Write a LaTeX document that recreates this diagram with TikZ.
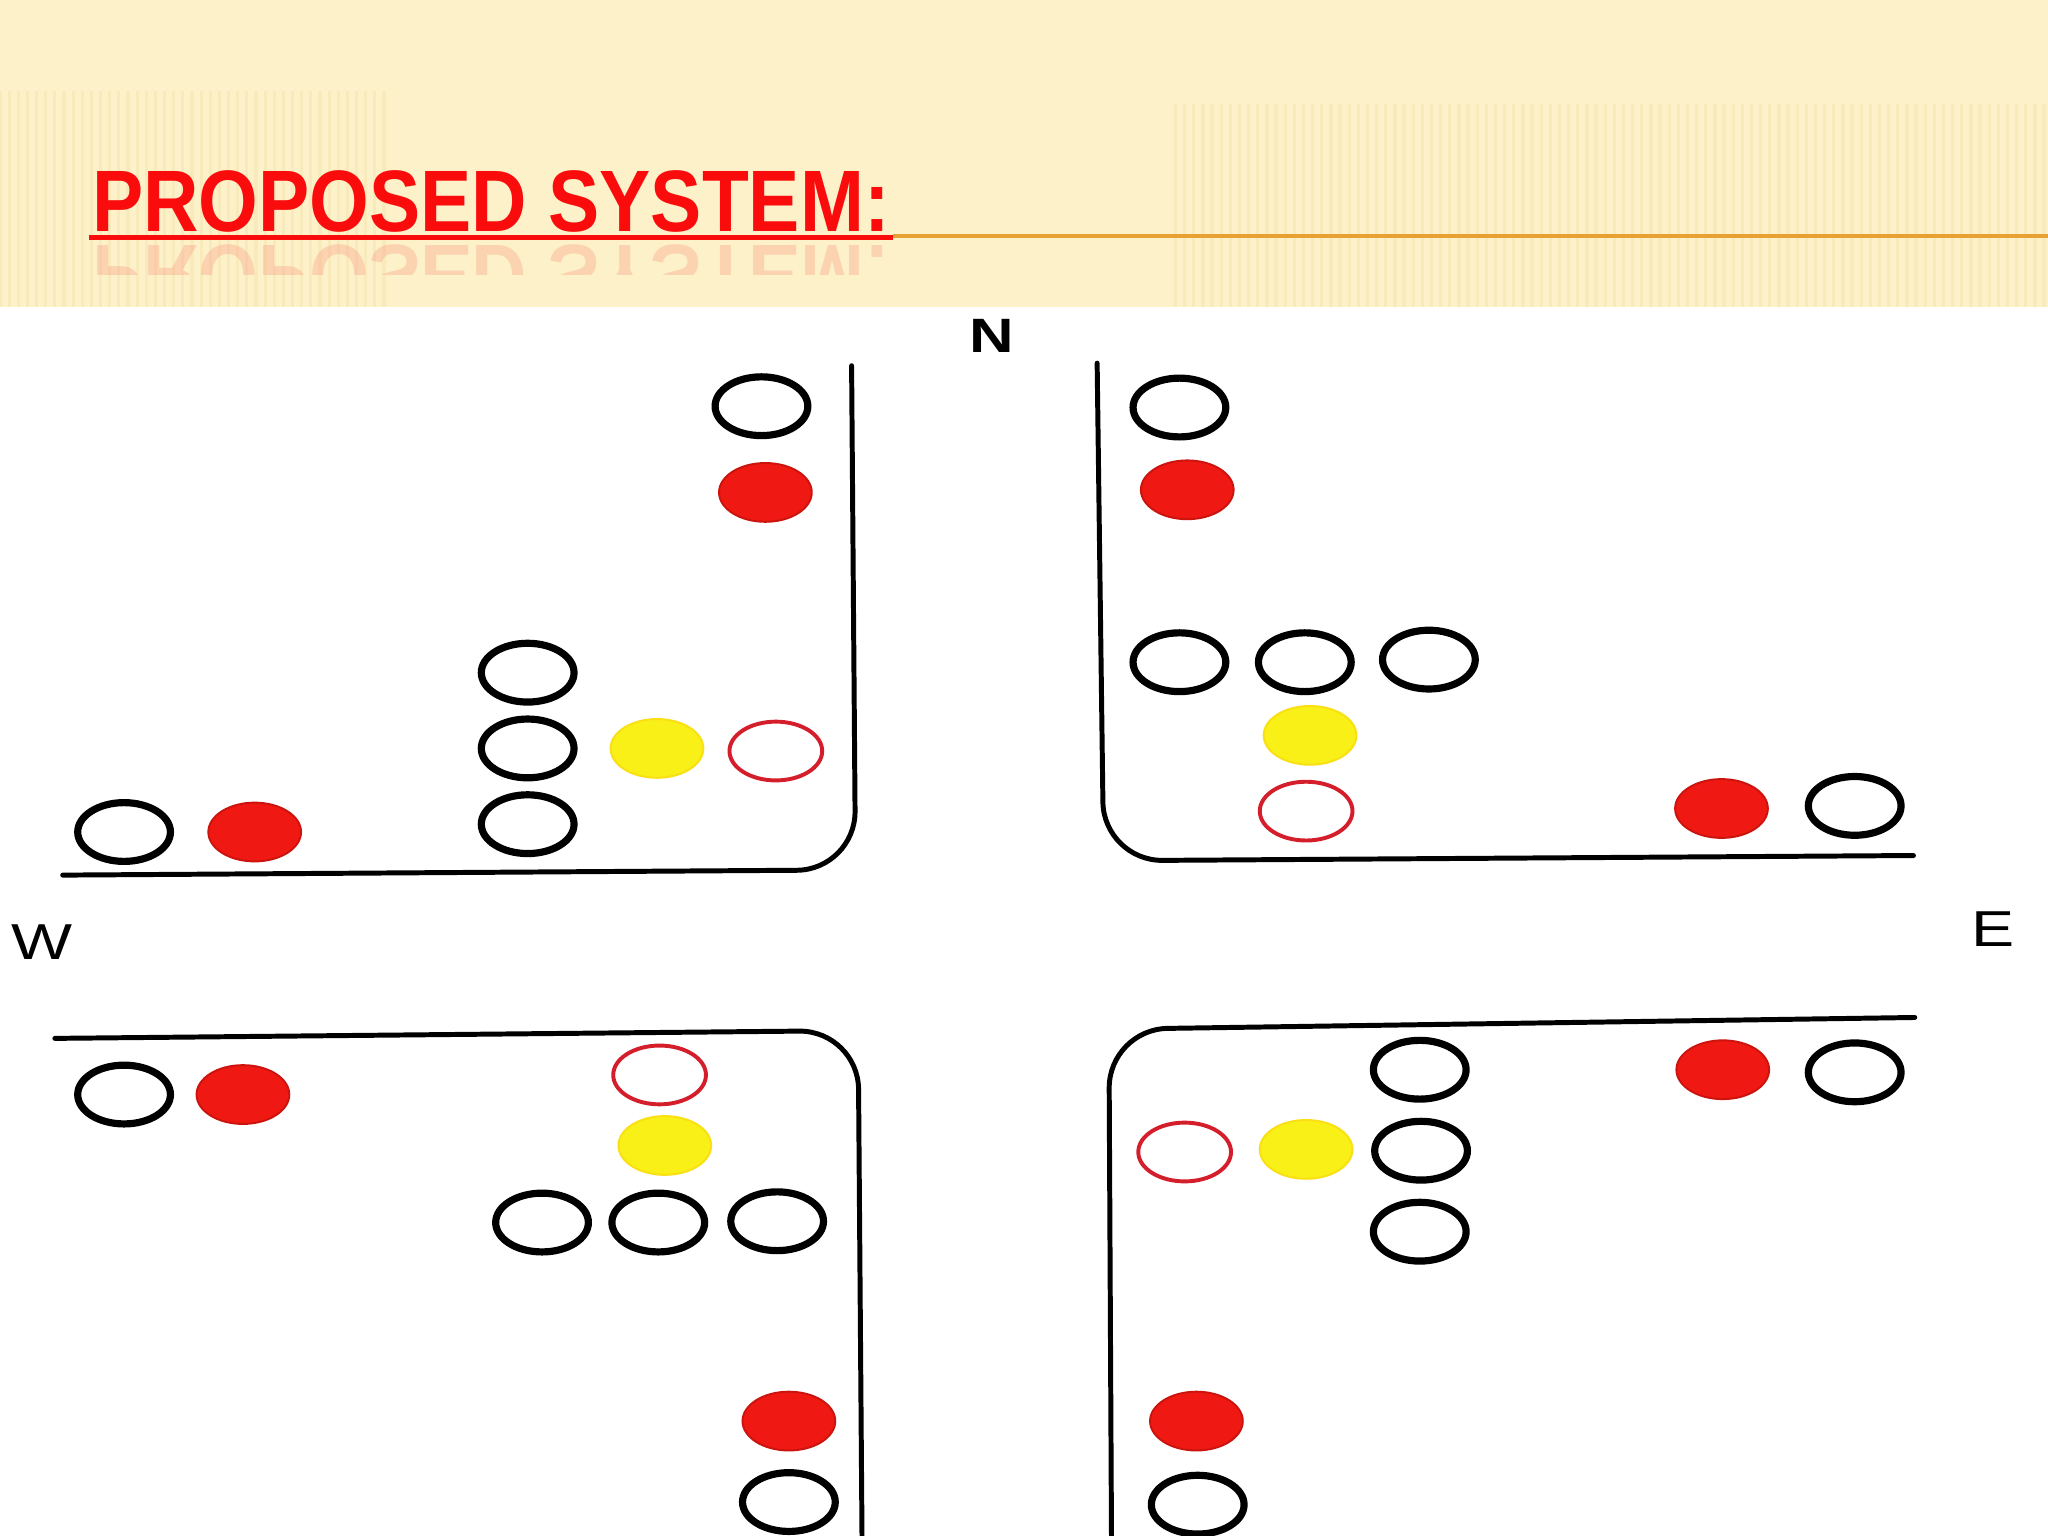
\documentclass[tikz,border=0pt]{standalone}
\usepackage{fontspec}
\setmainfont{Liberation Sans}
\usetikzlibrary{shapes.geometric}
\definecolor{cream}{RGB}{253,241,202}
\definecolor{creamdark}{RGB}{244,224,168}
\definecolor{titlered}{RGB}{250,12,12}
\definecolor{ruleorange}{RGB}{232,162,52}
\definecolor{lampred}{RGB}{240,24,18}
\definecolor{lampyellow}{RGB}{248,240,22}
\definecolor{ringred}{RGB}{212,30,44}
\tikzset{
  lamp/.style={ellipse, minimum width=7.1mm, minimum height=4.5mm, inner sep=0pt},
  offlamp/.style={lamp, draw=black, line width=0.55mm},
  redlamp/.style={lamp, fill=lampred, draw=lampred!85!black, line width=0.15mm},
  yellowlamp/.style={lamp, fill=lampyellow, draw=lampyellow!85!orange, line width=0.15mm},
  redring/.style={lamp, draw=ringred, line width=0.3mm},
  road/.style={line width=0.38mm, line cap=round, rounded corners=4.5mm},
  compass/.style={font=\fontsize{11}{11}\selectfont, xscale=1.28, inner sep=0pt}
}
\begin{document}
\begin{tikzpicture}[x=0.1mm, y=-0.1mm]
			\useasboundingbox (0,0) rectangle (1568,1176);
			\fill[white] (0,0) rectangle (1568,1176);
			
			%%%%% HEADER %%%%%
			
			\fill[cream] (0,0) rectangle (1568,235);
			\foreach \x in {0,7,...,300}
				\draw[creamdark, line width=0.25mm, opacity=0.4] (\x,70) -- (\x,235);
			\foreach \x in {900,907,...,1568}
				\draw[creamdark, line width=0.25mm, opacity=0.4] (\x,80) -- (\x,235);
			
			\node[anchor=base west, text=titlered, font=\fontsize{19}{19}\selectfont\bfseries, xscale=0.88, inner sep=0pt] (title) at (70,177) {PROPOSED SYSTEM:};
			\begin{scope}
				\clip (60,184) rectangle (700,210);
				\node[anchor=base west, text=titlered, opacity=0.13, font=\fontsize{19}{19}\selectfont\bfseries, xscale=0.88, yscale=-1, inner sep=0pt] (titleecho) at (70,188) {PROPOSED SYSTEM:};
			\end{scope}
			\draw[ruleorange, line width=0.3mm] (684,181) -- (1568,181);
			\draw[titlered, line width=0.4mm] (68,182) -- (684,182);
			
			%%%%% COMPASS %%%%%
			
			\node[compass, font=\fontsize{10.5}{10.5}\selectfont\bfseries] (north) at (759,257) {N};
			\node[compass] (west) at (32,721) {W};
			\node[compass] (east) at (1526,711) {E};
			
			%%%%% ROADS %%%%%
			
			\draw[road] (652,280) -- (655,666) -- (48,670);
			\draw[road] (840,278) -- (845,659) -- (1465,655);
			\draw[road] (42,795) -- (657,789) -- (660,1180);
			\draw[road] (1466,779) -- (849,788) -- (851,1180);
			
			%%%%% NORTH-WEST %%%%%
			
			\node[offlamp] (nwTop) at (583,311) {};
			\node[redlamp] (nwStop) at (586,377) {};
			\node[offlamp] (nwColA) at (404,515) {};
			\node[offlamp] (nwColB) at (404,573) {};
			\node[offlamp] (nwColC) at (404,631) {};
			\node[yellowlamp] (nwWait) at (503,573) {};
			\node[redring] (nwRing) at (594,575) {};
			\node[offlamp] (nwLeft) at (95,637) {};
			\node[redlamp] (nwLeftStop) at (195,637) {};
			
			%%%%% NORTH-EAST %%%%%
			
			\node[offlamp] (neTop) at (903,312) {};
			\node[redlamp] (neStop) at (909,375) {};
			\node[offlamp] (neRowA) at (903,507) {};
			\node[offlamp] (neRowB) at (999,507) {};
			\node[offlamp] (neRowC) at (1094,505) {};
			\node[yellowlamp] (neWait) at (1003,563) {};
			\node[redring] (neRing) at (1000,621) {};
			\node[redlamp] (neRightStop) at (1318,619) {};
			\node[offlamp] (neRight) at (1420,617) {};
			
			%%%%% SOUTH-WEST %%%%%
			
			\node[offlamp] (swLeft) at (95,838) {};
			\node[redlamp] (swLeftStop) at (186,838) {};
			\node[redring] (swRing) at (505,823) {};
			\node[yellowlamp] (swWait) at (509,877) {};
			\node[offlamp] (swRowA) at (415,936) {};
			\node[offlamp] (swRowB) at (504,936) {};
			\node[offlamp] (swRowC) at (595,935) {};
			\node[redlamp] (swStop) at (604,1088) {};
			\node[offlamp] (swBottom) at (604,1150) {};
			
			%%%%% SOUTH-EAST %%%%%
			
			\node[offlamp] (seColA) at (1087,819) {};
			\node[offlamp] (seColB) at (1088,881) {};
			\node[offlamp] (seColC) at (1087,943) {};
			\node[redring] (seRing) at (907,882) {};
			\node[yellowlamp] (seWait) at (1000,880) {};
			\node[redlamp] (seRightStop) at (1319,819) {};
			\node[offlamp] (seRight) at (1420,821) {};
			\node[redlamp] (seStop) at (916,1088) {};
			\node[offlamp] (seBottom) at (917,1152) {};
			
			%%%%% END %%%%%
\end{tikzpicture}
\end{document}
